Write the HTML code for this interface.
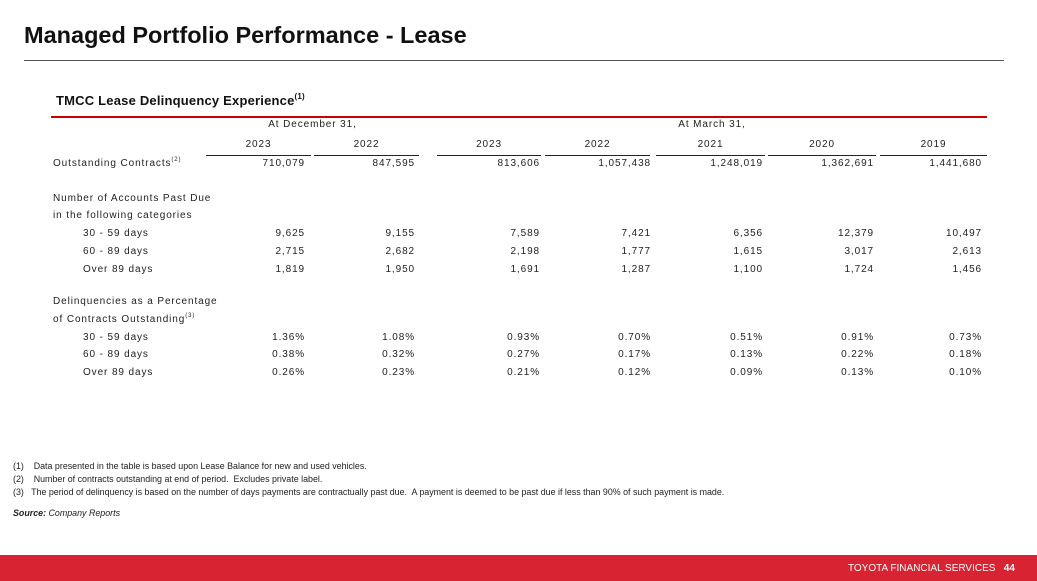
<!DOCTYPE html>
<html><head><style>
body{margin:0;width:1037px;height:581px;position:relative;background:#fff;font-family:"Liberation Sans",Arial,sans-serif;overflow:hidden}
.a{position:absolute;white-space:nowrap}
.t{font-size:10px;letter-spacing:0.9px;color:#222;line-height:12px}
.r{text-align:right}
.c{text-align:center}
.fn{font-size:8.9px;color:#222;line-height:10px}
sup{line-height:0;vertical-align:baseline;position:relative;top:-0.8em}
</style></head><body>
<div class="a" style="left:24px;top:22px;font-size:23.5px;font-weight:bold;color:#111">Managed Portfolio Performance - Lease</div>
<div class="a" style="left:24px;top:60px;width:980px;height:1px;background:#555"></div>
<div class="a" style="left:56px;top:93px;font-size:13px;font-weight:bold;color:#111;letter-spacing:0.2px">TMCC Lease Delinquency Experience<sup style="font-size:8px">(1)</sup></div>
<div class="a" style="left:51px;top:116px;width:936px;height:2px;background:#c00"></div>
<div class="a t c" style="left:206px;top:119px;width:213px">At December 31,</div>
<div class="a t c" style="left:437px;top:119px;width:550px">At March 31,</div>
<div id="g"></div>
<script>
var cols=[[206,311],[314,419],[437,541],[545,650],[656,765],[768,876],[880,987]];
var yrs=["2023","2022","2023","2022","2021","2020","2019"];
var rights=[305,415,540,651,763,874,982];
var s="";
cols.forEach(function(c,i){
s+='<div class="a t c" style="left:'+c[0]+'px;top:139px;width:'+(c[1]-c[0])+'px">'+yrs[i]+'</div>';
s+='<div class="a" style="left:'+c[0]+'px;top:155px;width:'+(c[1]-c[0])+'px;height:1px;background:#222"></div>';
});
var rows=[
[158,53,'Outstanding Contracts<sup style="font-size:6px">(2)</sup>',["710,079","847,595","813,606","1,057,438","1,248,019","1,362,691","1,441,680"]],
[193,53,"Number of Accounts Past Due"],
[210,53,"in the following categories"],
[228,83,"30 - 59 days",["9,625","9,155","7,589","7,421","6,356","12,379","10,497"]],
[246,83,"60 - 89 days",["2,715","2,682","2,198","1,777","1,615","3,017","2,613"]],
[264,83,"Over 89 days",["1,819","1,950","1,691","1,287","1,100","1,724","1,456"]],
[296,53,"Delinquencies as a Percentage"],
[314,53,'of Contracts Outstanding<sup style="font-size:6px">(3)</sup>'],
[332,83,"30 - 59 days",["1.36%","1.08%","0.93%","0.70%","0.51%","0.91%","0.73%"]],
[349,83,"60 - 89 days",["0.38%","0.32%","0.27%","0.17%","0.13%","0.22%","0.18%"]],
[367,83,"Over 89 days",["0.26%","0.23%","0.21%","0.12%","0.09%","0.13%","0.10%"]]];
rows.forEach(function(r){
s+='<div class="a t" style="left:'+r[1]+'px;top:'+r[0]+'px">'+r[2]+'</div>';
if(r[3])r[3].forEach(function(v,i){s+='<div class="a t r" style="left:'+(rights[i]-100)+'px;top:'+r[0]+'px;width:100px">'+v+'</div>';});
});
document.getElementById("g").innerHTML=s;
</script>
<div class="a fn" style="left:13px;top:461px">(1)&nbsp;&nbsp;&nbsp; Data presented in the table is based upon Lease Balance for new and used vehicles.</div>
<div class="a fn" style="left:13px;top:474px">(2)&nbsp;&nbsp;&nbsp; Number of contracts outstanding at end of period.&nbsp; Excludes private label.</div>
<div class="a fn" style="left:13px;top:487px">(3)&nbsp;&nbsp; The period of delinquency is based on the number of days payments are contractually past due.&nbsp; A payment is deemed to be past due if less than 90% of such payment is made.</div>
<div class="a fn" style="left:13px;top:508px;font-style:italic"><b>Source:</b> Company Reports</div>
<div class="a" style="left:0;top:555px;width:1037px;height:26px;background:#d82332"></div>
<div class="a" style="left:848px;top:563px;font-size:10px;color:#fff">TOYOTA FINANCIAL SERVICES&nbsp;&nbsp; <b>44</b></div>
</body></html>
